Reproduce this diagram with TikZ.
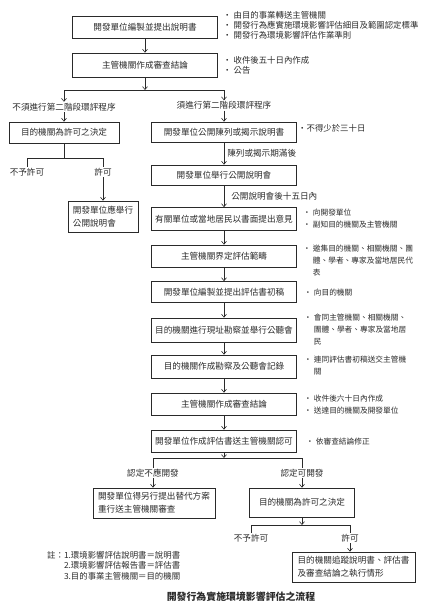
\documentclass[tikz,border=0pt]{standalone}
\usepackage{fontspec}
\setmainfont{Noto Sans CJK TC}
\usepackage{tikz}
\usetikzlibrary{arrows.meta,positioning}
\definecolor{cInk}{HTML}{2A2A2A}
\tikzset{
  pbox/.style={draw=cInk,line width=0.7pt,text=cInk,font=\fontsize{8.6}{11}\selectfont,minimum width=#1,minimum height=22pt,inner sep=2pt,align=center},
  pbox/.default=145pt,
  tbox/.style={draw=cInk,line width=0.7pt,text=cInk,font=\fontsize{8.6}{13}\selectfont,inner xsep=5pt,inner ysep=2pt,align=left},
  arr/.style={-{Straight Barb[length=3pt,width=5pt]},line width=0.6pt,color=cInk},
  ln/.style={line width=0.6pt,color=cInk},
  lbl/.style={font=\fontsize{8.6}{11}\selectfont,text=cInk,inner sep=1pt},
  note/.style={font=\fontsize{7.7}{12}\selectfont,text=cInk,inner sep=0pt,anchor=base west},
  topnote/.style={note,font=\fontsize{8.4}{10}\selectfont},
}

\begin{document}
\begin{tikzpicture}[x=1pt,y=-1pt]
  \useasboundingbox (0,0) rectangle (426,610);
  % first stage
  \node[pbox] (b1) at (145,27.5) {開發單位編製並提出說明書};
  \node[pbox,minimum height=24pt] (b2) at (145,65) {主管機關作成審查結論};
  \draw[arr] (b1) -- (b2);
  \node[topnote] (n1) at (223,18.5) {\begin{tabular}[t]{@{}l@{\hspace{2pt}}l@{}}
    ・ & 由目的事業轉送主管機關\\
    ・ & 開發行為應實施環境影響評估細目及範圍認定標準\\
    ・ & 開發行為環境影響評估作業準則\end{tabular}};
  \node[topnote] (n2) at (223,63.2) {\begin{tabular}[t]{@{}l@{\hspace{2pt}}l@{}}
    ・ & 收件後五十日內作成\\
    ・ & 公告\end{tabular}};
  \coordinate (j1) at (145,90);
  \node[lbl] (no2) at (64,107) {不須進行第二階段環評程序};
  \node[lbl] (yes2) at (224,105.5) {須進行第二階段環評程序};
  \draw[arr] (b2) -- (j1);
  \draw[arr] (j1) -| (no2);
  \draw[arr] (j1) -| (yes2);
  % no second stage
  \node[pbox=110pt,minimum height=21pt] (lA) at (64,132.5) {目的機關為許可之決定};
  \draw[arr] (no2) -- (lA);
  \coordinate (j2) at (64,158);
  \node[lbl] (lNo) at (27,172) {不予許可};
  \node[lbl] (lYes) at (103,172) {許可};
  \draw[ln] (lA) -- (j2);
  \draw[ln] (j2) -| (lNo);
  \draw[ln] (j2) -| (lYes);
  \node[tbox,minimum width=70pt,minimum height=31pt] (lB) at (103,216.5) {開發單位應舉行\\公開說明會};
  \draw[arr] (lYes) -- (lYes |- lB.north);
  % second stage
  \node[pbox,minimum height=20pt] (r1) at (224,132) {開發單位公開陳列或揭示說明書};
  \node[pbox,minimum height=20pt] (r2) at (224,175) {開發單位舉行公開說明會};
  \node[pbox,minimum height=23pt] (r3) at (224,219) {有關單位或當地居民以書面提出意見};
  \node[pbox] (r4) at (224,256) {主管機關界定評估範疇};
  \node[pbox,minimum height=21pt] (r5) at (224,292) {開發單位編製並提出評估書初稿};
  \node[pbox,minimum height=24pt] (r6) at (224,330) {目的機關進行現址勘察並舉行公聽會};
  \node[pbox,minimum height=23pt] (r7) at (224,366.5) {目的機關作成勘察及公聽會記錄};
  \node[pbox] (r8) at (224,404) {主管機關作成審查結論};
  \node[pbox] (r9) at (224,441) {開發單位作成評估書送主管機關認可};
  \draw[arr] (yes2) -- (r1);
  \draw[arr] (r1) -- node[lbl,right=2pt] {陳列或揭示期滿後} (r2);
  \draw[arr] (r2) -- node[lbl,right=6pt] {公開說明會後十五日內} (r3);
  \foreach \a/\b in {r3/r4,r4/r5,r5/r6,r6/r7,r7/r8,r8/r9}{\draw[arr] (\a) -- (\b);}
  \node[topnote] (n3) at (298,131) {・不得少於三十日};
  \node[note] (n4) at (303,215) {\begin{tabular}[t]{@{}l@{\hspace{2pt}}l@{}}
    ・ & 向開發單位\\
    ・ & 副知目的機關及主管機關\end{tabular}};
  \node[note] (n5) at (303,251) {\begin{tabular}[t]{@{}l@{\hspace{2pt}}l@{}}
    ・ & 邀集目的機關、相關機關、團\\
       & 體、學者、專家及當地居民代\\
       & 表\end{tabular}};
  \node[note] (n6) at (304,295) {\begin{tabular}[t]{@{}l@{\hspace{2pt}}l@{}}
    ・ & 向目的機關\end{tabular}};
  \node[note] (n7) at (304,320) {\begin{tabular}[t]{@{}l@{\hspace{2pt}}l@{}}
    ・ & 會同主管機關、相關機關、\\
       & 團體、學者、專家及當地居\\
       & 民\end{tabular}};
  \node[note] (n8) at (304,362) {\begin{tabular}[t]{@{}l@{\hspace{2pt}}l@{}}
    ・ & 連同評估書初稿送交主管機\\
       & 關\end{tabular}};
  \node[note] (n9) at (304,401) {\begin{tabular}[t]{@{}l@{\hspace{2pt}}l@{}}
    ・ & 收件後六十日內作成\\
    ・ & 送達目的機關及開發單位\end{tabular}};
  \node[note] (n10) at (306,444) {\begin{tabular}[t]{@{}l@{\hspace{2pt}}l@{}}
    ・ & 依審查結論修正\end{tabular}};
  % review result
  \coordinate (j3) at (224,458);
  \node[lbl] (lNot) at (153,473) {認定不應開發};
  \node[lbl] (lOk) at (302,473) {認定可開發};
  \draw[arr] (r9) -- (j3);
  \draw[ln] (j3) -| (lNot);
  \draw[ln] (j3) -| (lOk);
  \node[tbox,minimum width=122pt,minimum height=30pt] (lC) at (154,503) {開發單位得另行提出替代方案\\重行送主管機關審查};
  \node[pbox=105pt,minimum height=29pt] (rA) at (302,502.5) {目的機關為許可之決定};
  \draw[arr] (lNot) -- (lNot |- lC.north);
  \draw[arr] (lOk) -- (rA);
  \coordinate (j4) at (302,525);
  \node[lbl] (rNo) at (251,538) {不予許可};
  \node[lbl] (rYes) at (350,538) {許可};
  \draw[arr] (rA) -- (j4);
  \draw[ln] (j4) -| (rNo);
  \draw[ln] (j4) -| (rYes);
  \node[tbox,minimum width=123pt,minimum height=30pt] (rB) at (353.5,567) {目的機關追蹤說明書、評估書\\及審查結論之執行情形};
  \draw[arr] (rYes) -- (rYes |- rB.north);
  % notes and title
  \node[note,font=\fontsize{8.4}{10.5}\selectfont] (foot) at (47,558) {\begin{tabular}[t]{@{}l@{}l@{}}
    註： & 1.環境影響評估說明書＝說明書\\
         & 2.環境影響評估報告書＝評估書\\
         & 3.目的事業主管機關＝目的機關\end{tabular}};
  \node[lbl,font=\fontsize{9.9}{12}\selectfont\bfseries] (title) at (241,597) {開發行為實施環境影響評估之流程};
\end{tikzpicture}
\end{document}
